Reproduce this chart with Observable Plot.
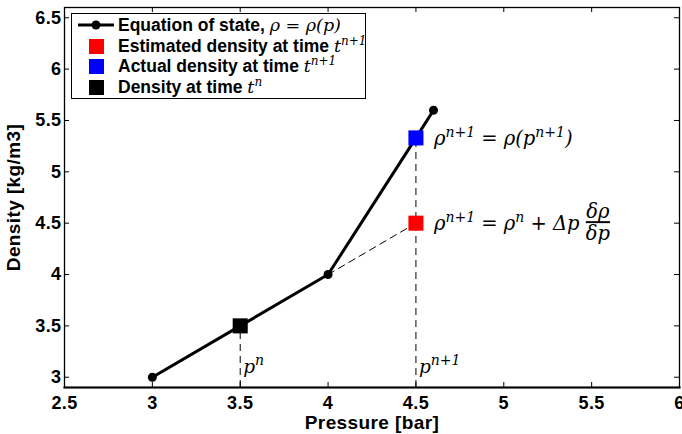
<!DOCTYPE html>
<html>
<head>
<meta charset="utf-8">
<script src="https://cdn.jsdelivr.net/npm/d3@7"></script>
<script src="https://cdn.jsdelivr.net/npm/@observablehq/plot@0.6"></script>
<style>
  body { margin: 0; background: #fff; }
  #wrap { position: relative; width: 682px; height: 434px; overflow: hidden; }
  #legend {
    position: absolute; left: 71px; top: 13px; width: 293px; height: 83px;
    border: 1.5px solid #000; background: #fff;
    font-family: "Liberation Sans", Arial, sans-serif; font-weight: bold; font-size: 17.5px;
    padding-top: 1px; box-sizing: content-box;
  }
  .row { height: 20.7px; line-height: 20.7px; display: flex; align-items: center; white-space: nowrap; }
  .sym { flex: 0 0 40px; width: 40px; display: flex; justify-content: center; align-items: center; margin-left: 4px; margin-right: 2px; }
  .sq { width: 15px; height: 15px; }
  .m { font-family: "DejaVu Serif", serif; font-style: italic; font-weight: normal; font-size: 17.5px; }
  .m sup { font-size: 12px; vertical-align: 7px; line-height: 0; }
  svg text { letter-spacing: 0.4px; }
</style>
</head>
<body>
<div id="wrap"></div>
<script>
// ---- data ----
const pressure = [3, 3.5, 4, 4.5, 4.6];          // equation of state, bar
const density  = [3, 3.5, 4, 5.33, 5.6];         // kg/m3
const squareP   = [3.5, 4.5, 4.5];               // current, estimated, actual
const squareRho = [3.5, 4.5, 5.33];
const squareKind = ["current", "estimated", "actual"];
const extrapP   = [4, 4.5];                      // linearised estimate
const extrapRho = [4, 4.5];
const dropP   = [3.5, 4.5];                      // dashed verticals
const dropRho = [3.5, 5.33];
const dropLabels = ["p^{n}", "p^{n+1}"];
const xTicks = [2.5, 3, 3.5, 4, 4.5, 5, 5.5, 6];
const yTicks = [3, 3.5, 4, 4.5, 5, 5.5, 6, 6.5];
const xDomain = [2.5, 6];
const yDomain = [2.9, 6.6];
const annActual = "ρ^{n+1} = ρ(p^{n+1})";
const annEstimated = "ρ^{n+1} = ρ^{n} + Δp";
const fracNum = "δρ";
const fracDen = "δp";

const W = 682, H = 434, mL = 64, mR = 3, mT = 7, mB = 47;
const innerW = W - mL - mR, innerH = H - mT - mB;

const eos = pressure.map((p, i) => ({p, rho: density[i]}));
const squares = squareP.map((p, i) => ({p, rho: squareRho[i], kind: squareKind[i]}));
const extrap = extrapP.map((p, i) => ({p, rho: extrapRho[i]}));
const drops = dropP.map((p, i) => ({p, rho: dropRho[i], y0: yDomain[0], label: dropLabels[i]}));
const annA = [{p: squareP[2], rho: squareRho[2], text: annActual}];
const annE = [{p: squareP[1], rho: squareRho[1], text: annEstimated}];

const mathFont = "DejaVu Serif";
const mathStyle = {fontFamily: mathFont, fontStyle: "italic", fontWeight: "normal", fontSize: 19.5};

const chart = Plot.plot({
  width: W, height: H,
  marginLeft: mL, marginRight: mR, marginTop: mT, marginBottom: mB,
  x: {domain: xDomain},
  y: {domain: yDomain},
  color: {domain: squareKind, range: ["#000000", "#ff0000", "#0000ff"]},
  style: {fontFamily: "Liberation Sans, Arial, sans-serif", fontWeight: "bold", fontSize: "18px", background: "#fff", color: "#000"},
  marks: [
    // dashed guides
    Plot.ruleX(drops, {x: "p", y1: "y0", y2: "rho", stroke: "#000", strokeWidth: 1, strokeDasharray: "7,5"}),
    Plot.line(extrap, {x: "p", y: "rho", stroke: "#000", strokeWidth: 1, strokeDasharray: "7,5"}),
    // equation of state
    Plot.line(eos, {x: "p", y: "rho", stroke: "#000", strokeWidth: 3}),
    Plot.dot(eos, {x: "p", y: "rho", r: 4.5, fill: "#000", stroke: "none"}),
    Plot.dot(squares, {x: "p", y: "rho", symbol: "square", r: 8.5, fill: "kind", stroke: "none"}),
    // annotations
    Plot.text(annA, {x: "p", y: "rho", text: "text", dx: 18, dy: 7, textAnchor: "start", lineAnchor: "bottom", ...mathStyle}),
    Plot.text(annE, {x: "p", y: "rho", text: "text", dx: 18, dy: 7, textAnchor: "start", lineAnchor: "bottom", ...mathStyle}),
    Plot.text(annE, {x: "p", y: "rho", text: () => fracNum, dx: 182, dy: -5, textAnchor: "middle", lineAnchor: "bottom", ...mathStyle}),
    Plot.text(annE, {x: "p", y: "rho", text: () => fracDen, dx: 182, dy: 17, textAnchor: "middle", lineAnchor: "bottom", ...mathStyle}),
    Plot.text(drops, {x: "p", text: "label", frameAnchor: "bottom", dx: 3, dy: -15, textAnchor: "start", lineAnchor: "bottom", ...mathStyle, fontSize: 18.5}),
    // inward ticks on all four sides
    Plot.tickX(xTicks, {x: d => d, insetTop: innerH - 5, stroke: "#000", strokeWidth: 1}),
    Plot.tickX(xTicks, {x: d => d, insetBottom: innerH - 5, stroke: "#000", strokeWidth: 1}),
    Plot.tickY(yTicks, {y: d => d, insetRight: innerW - 5, stroke: "#000", strokeWidth: 1}),
    Plot.tickY(yTicks, {y: d => d, insetLeft: innerW - 5, stroke: "#000", strokeWidth: 1}),
    // axes
    Plot.axisX(xTicks, {tickSize: 0, tickPadding: 9, tickFormat: d => String(d), fontSize: 18,
      label: "Pressure [bar]", labelAnchor: "center", labelOffset: 41, labelArrow: "none"}),
    Plot.axisY(yTicks, {tickSize: 0, tickPadding: 3, tickFormat: d => String(d), fontSize: 18,
      label: "Density [kg/m3]", labelAnchor: "center", labelOffset: 58, labelArrow: "none"}),
    Plot.frame({stroke: "#000", strokeWidth: 1.3}),
    Plot.frame({anchor: "bottom", stroke: "#000", strokeWidth: 2.2})
  ]
});

// render ^{...} as superscript tspans
function mathify(svg) {
  svg.querySelectorAll("text").forEach(t => {
    const s = t.textContent;
    if (!s.includes("^{")) return;
    const ns = "http://www.w3.org/2000/svg";
    while (t.firstChild) t.removeChild(t.firstChild);
    const re = /\^\{([^}]*)\}/g;
    let last = 0, m, raised = false;
    const add = (txt, sup) => {
      const ts = document.createElementNS(ns, "tspan");
      ts.textContent = txt;
      if (sup) { ts.setAttribute("dy", "-8"); ts.setAttribute("font-size", "14"); }
      else if (raised) { ts.setAttribute("dy", "8"); }
      raised = sup;
      t.appendChild(ts);
    };
    while ((m = re.exec(s))) {
      if (m.index > last) add(s.slice(last, m.index), false);
      add(m[1], true);
      last = re.lastIndex;
    }
    if (last < s.length) add(s.slice(last), false);
  });
  svg.querySelectorAll("text").forEach(t => {
    if (t.closest("[font-family='" + mathFont + "']")) t.style.letterSpacing = "0";
    if (t.textContent === fracDen) t.style.textDecoration = "overline";
  });
  svg.querySelectorAll("g[aria-label='x-axis label'] text, g[aria-label='y-axis label'] text").forEach(t => {
    t.setAttribute("font-size", "19");
  });
}
mathify(chart);

const wrap = document.getElementById("wrap");
wrap.appendChild(chart);

const legend = document.createElement("div");
legend.id = "legend";
legend.innerHTML = `
  <div class="row"><div class="sym"><svg width="40" height="10"><line x1="2" x2="38" y1="5" y2="5" stroke="#000" stroke-width="3"/><circle cx="20" cy="5" r="4.5" fill="#000"/></svg></div>Equation of state,&nbsp;<span class="m">ρ = ρ(p)</span></div>
  <div class="row"><div class="sym"><div class="sq" style="background:#ff0000"></div></div>Estimated density at time&nbsp;<span class="m">t<sup>n+1</sup></span></div>
  <div class="row"><div class="sym"><div class="sq" style="background:#0000ff"></div></div>Actual density at time&nbsp;<span class="m">t<sup>n+1</sup></span></div>
  <div class="row"><div class="sym"><div class="sq" style="background:#000000"></div></div>Density at time&nbsp;<span class="m">t<sup>n</sup></span></div>`;
wrap.appendChild(legend);
</script>
</body>
</html>
